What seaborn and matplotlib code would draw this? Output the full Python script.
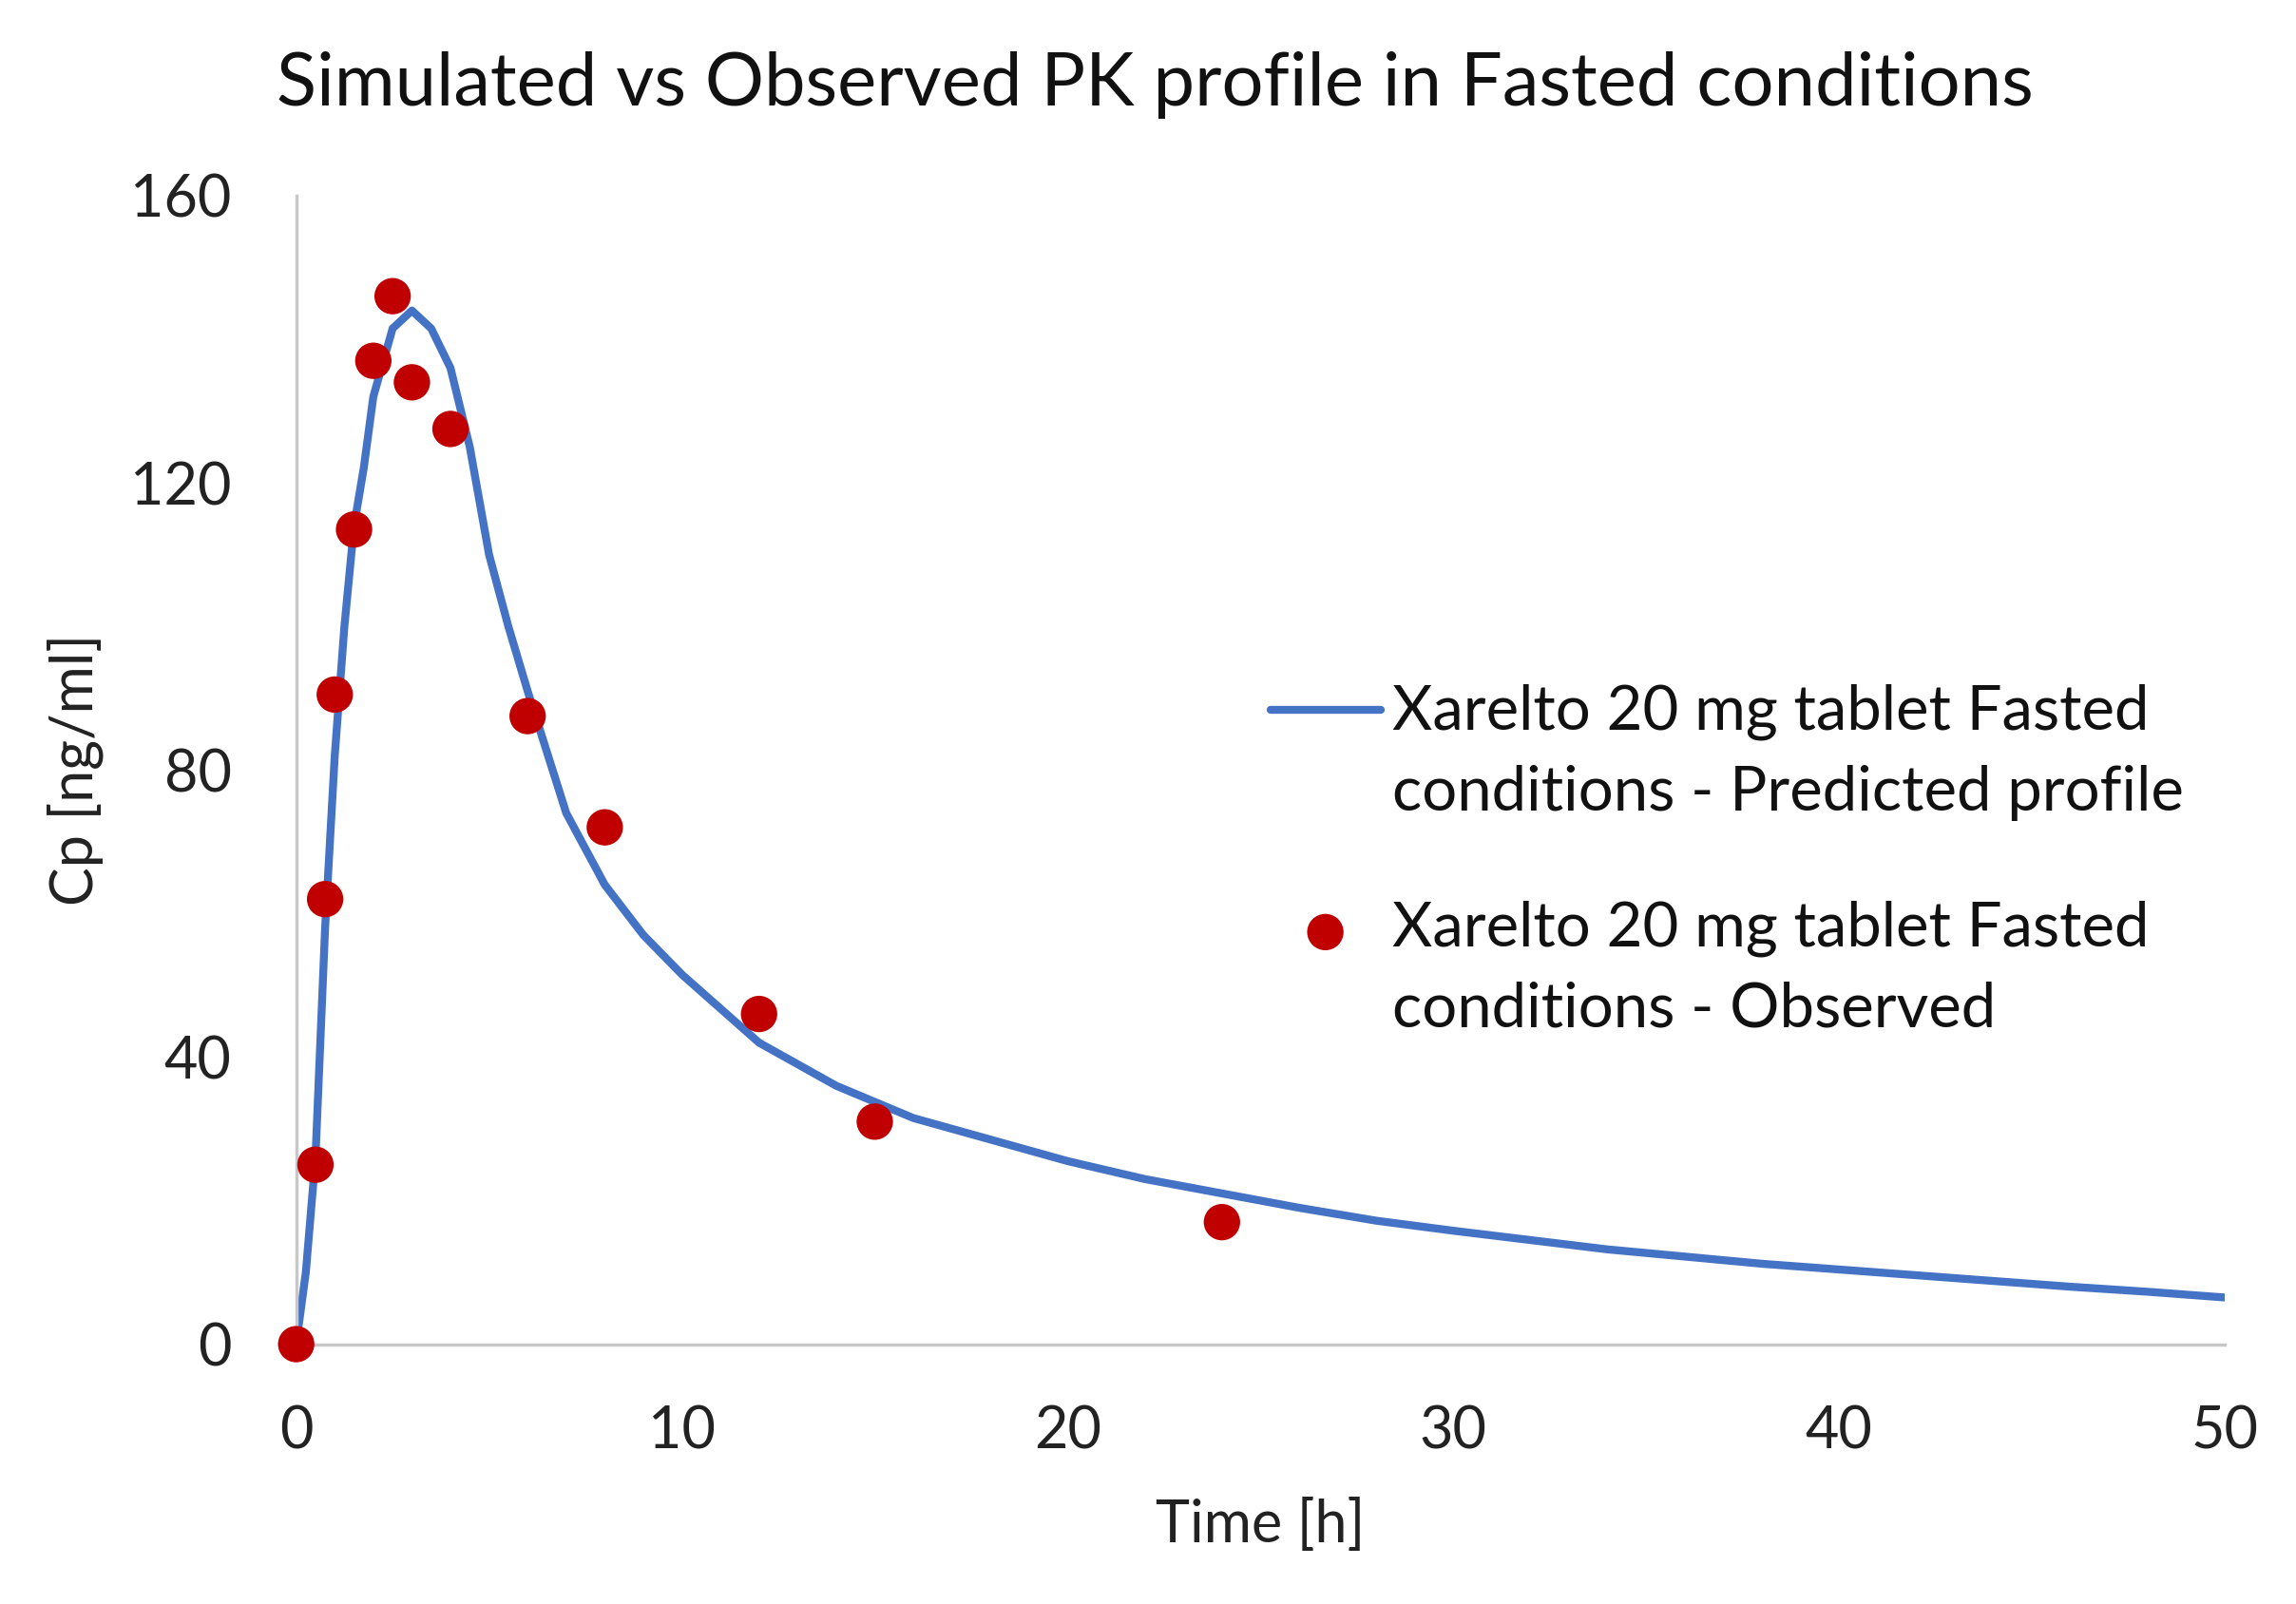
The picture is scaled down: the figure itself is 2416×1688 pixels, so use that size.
import numpy as np
import pandas as pd
import matplotlib
matplotlib.use("Agg")
import matplotlib.pyplot as plt
import seaborn as sns
from matplotlib.legend_handler import HandlerLine2D, HandlerPathCollection
from matplotlib.lines import Line2D
from matplotlib.collections import PathCollection
from matplotlib.transforms import Affine2D

# Predicted profile
pred_time = [0, 0.25, 0.5, 0.75, 1, 1.25, 1.5, 1.75, 2, 2.5, 3, 3.5, 4, 4.5,
             5, 5.5, 6, 7, 8, 9, 10, 12, 14, 16, 18, 20, 22, 24, 26, 28, 30,
             32, 34, 36, 38, 40, 42, 44, 46, 48, 50]
pred_cp = [0, 10, 26, 58, 82, 100, 114, 122, 132, 141.5, 144, 141.5, 136, 125,
           110, 100, 91, 74, 64, 57, 51.5, 42, 36, 31.5, 28.5, 25.5, 23, 21, 19,
           17.2, 15.8, 14.5, 13.2, 12.2, 11.2, 10.4, 9.6, 8.8, 8.0, 7.3, 6.5]

# Observed data points
obs_time = [0, 0.5, 0.75, 1, 1.5, 2, 2.5, 3, 4, 6, 8, 12, 15, 24]
obs_cp = [0, 25, 62, 90.5, 113.5, 137, 146, 134, 127.5, 87.5, 72, 46, 31, 17]

pred_label = "Xarelto 20 mg tablet Fasted\nconditions - Predicted profile"
obs_label = "Xarelto 20 mg tablet Fasted\nconditions - Observed"

sns.set_theme(style="white")
plt.rcParams['font.family'] = ['Lato', 'DejaVu Sans']

fig = plt.figure(figsize=(24.16, 16.88), dpi=100)
ax = fig.add_axes([0.129, 0.162, 0.840, 0.716])

pred_df = pd.DataFrame({'time': pred_time, 'cp': pred_cp})
obs_df = pd.DataFrame({'time': obs_time, 'cp': obs_cp})

sns.lineplot(data=pred_df, x='time', y='cp', color='#4472C4', linewidth=6.0,
             label=pred_label, ax=ax, zorder=2)
sns.scatterplot(data=obs_df, x='time', y='cp', color='#C00000', s=760,
                edgecolor='none', label=obs_label, ax=ax, zorder=3, clip_on=False)

ax.set_xlim(0, 50)
ax.set_ylim(0, 160)
ax.set_xticks([0, 10, 20, 30, 40, 50])
ax.set_yticks([0, 40, 80, 120, 160])
ax.tick_params(axis='both', labelsize=44, length=0, colors='#222222')
ax.tick_params(axis='x', pad=46)
ax.tick_params(axis='y', pad=49)

for side in ['top', 'right']:
    ax.spines[side].set_visible(False)
for side in ['left', 'bottom']:
    ax.spines[side].set_color('#C8C8C8')
    ax.spines[side].set_linewidth(2.5)

ax.set_xlabel('Time [h]', fontsize=44, labelpad=30, color='#222222')
ax.set_ylabel('Cp [ng/ml]', fontsize=44, labelpad=20, color='#222222')
fig.suptitle('Simulated vs Observed PK profile in Fasted conditions',
             fontsize=56, x=0.503, y=0.968, color='#111111')


# put the legend handles next to the first text line instead of the middle
def upper_handler(base):
    class Shifted(base):
        def create_artists(self, legend, orig_handle, xdescent, ydescent,
                           width, height, fontsize, trans):
            trans = Affine2D().translate(0, 0.70 * fontsize) + trans
            return super().create_artists(legend, orig_handle, xdescent, ydescent,
                                          width, height, fontsize, trans)
    return Shifted


leg = ax.legend(loc='upper left', bbox_to_anchor=(0.505, 0.575), frameon=False,
                fontsize=47, handlelength=1.78, handletextpad=0.19, labelspacing=1.29,
                borderpad=0, borderaxespad=0,
                handler_map={Line2D: upper_handler(HandlerLine2D)(),
                             PathCollection: upper_handler(HandlerPathCollection)()})
for t in leg.get_texts():
    t.set_linespacing(1.53)
    t.set_color('#111111')

fig.savefig('out.png', dpi=100, facecolor='white')
